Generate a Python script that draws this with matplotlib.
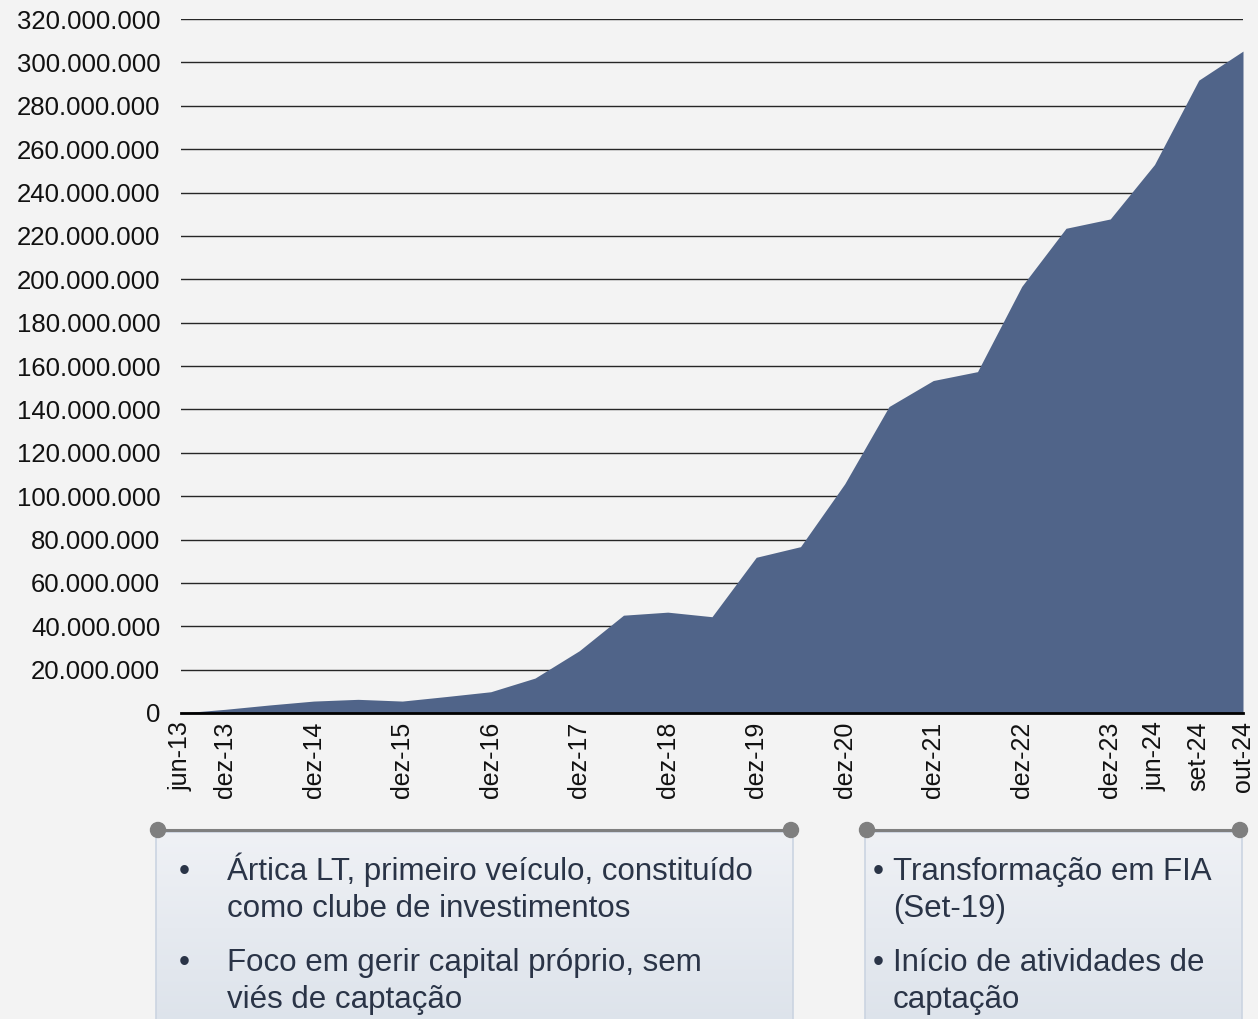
import numpy as np
import matplotlib
matplotlib.use('Agg')
import matplotlib.pyplot as plt
from matplotlib.ticker import FuncFormatter, MultipleLocator
from matplotlib.patches import Rectangle, Circle

plt.rcParams['font.family'] = ['Liberation Sans', 'DejaVu Sans']

# ================= Data =================
periods = ['jun-13', 'dez-13', 'jun-14', 'dez-14', 'jun-15', 'dez-15', 'jun-16', 'dez-16',
           'jun-17', 'dez-17', 'jun-18', 'dez-18', 'jun-19', 'dez-19', 'jun-20', 'dez-20',
           'jun-21', 'dez-21', 'jun-22', 'dez-22', 'jun-23', 'dez-23', 'jun-24', 'set-24',
           'out-24']
# patrimonio (R$ milhoes)
aum_mm = [0, 1.7, 3.7, 5.5, 6.3, 5.5, 7.6, 9.8,
          16.1, 28.7, 45.1, 46.5, 44.4, 71.8, 76.7, 105.7,
          141.3, 153.3, 157.4, 196.7, 223.5, 227.8, 252.9, 291.8,
          305.2]
# only some labels are shown on the axis
shown_labels = ['jun-13', 'dez-13', 'dez-14', 'dez-15', 'dez-16', 'dez-17', 'dez-18',
                'dez-19', 'dez-20', 'dez-21', 'dez-22', 'dez-23', 'jun-24', 'set-24', 'out-24']

box_left = [["Ártica LT, primeiro veículo, constituído", "como clube de investimentos"],
            ["Foco em gerir capital próprio, sem", "viés de captação"]]
box_right = [["Transformação em FIA", "(Set-19)"],
             ["Início de atividades de", "captação"]]

W, H = 1258, 1019
bg = '#f3f3f3'
area_color = '#506489'
text_color = '#2a3447'

fig = plt.figure(figsize=(W / 100, H / 100), dpi=100, facecolor=bg)

# ================= Area chart =================
ax = fig.add_axes([181 / W, (H - 713) / H, 1062 / W, 694 / H])
ax.set_facecolor(bg)
x = np.arange(len(periods))
values = np.array(aum_mm) * 1e6
ax.fill_between(x, 0, values, color=area_color, lw=0, zorder=3)

ax.set_xlim(0, len(periods) - 1)
ax.set_ylim(0, 320e6)
ax.yaxis.set_major_locator(MultipleLocator(20e6))
ax.yaxis.set_major_formatter(FuncFormatter(lambda v, p: f"{v:,.0f}".replace(',', '.')))
ax.grid(axis='y', color='#262626', lw=1.0, zorder=1)
ax.set_axisbelow(True)

ax.set_xticks(x)
ax.set_xticklabels([p if p in shown_labels else '' for p in periods], rotation=90)
ax.tick_params(axis='x', length=0, pad=6, labelsize=18, labelcolor='#111111')
ax.tick_params(axis='y', length=0, pad=15, labelsize=18.5, labelcolor='#111111')

for side in ['top', 'right', 'left']:
    ax.spines[side].set_visible(False)
ax.spines['bottom'].set_color('black')
ax.spines['bottom'].set_linewidth(2)
ax.spines['bottom'].set_zorder(4)

# ================= Text boxes below =================
ov = fig.add_axes([0, 0, 1, 1])
ov.set_xlim(0, W)
ov.set_ylim(H, 0)
ov.axis('off')
ov.patch.set_visible(False)

grad = np.linspace(0, 1, 100).reshape(-1, 1)
top_c = np.array([0xef, 0xf1, 0xf5]) / 255
bot_c = np.array([0xdd, 0xe3, 0xeb]) / 255
grad_img = top_c + grad[..., None] * (bot_c - top_c)


def draw_box(x0, x1, lines, bullet_x, text_x):
    y0, y1 = 832, H + 5
    im = ov.imshow(grad_img, extent=[x0, x1, y1, y0], aspect='auto', zorder=1)
    rect = Rectangle((x0, y0), x1 - x0, y1 - y0, fill=False, ec='#cbd4e1', lw=1.2, zorder=2)
    ov.add_patch(rect)
    im.set_clip_path(rect)
    ov.plot([x0 + 2, x1 - 2], [830, 830], color='#7f7f7f', lw=2.2, zorder=3,
            solid_capstyle='butt')
    for cx in (x0 + 2, x1 - 2):
        ov.add_patch(Circle((cx, 830), 7.5, color='#7f7f7f', zorder=4))
    baselines = [[880, 917], [971, 1008]]
    for item, ys in zip(lines, baselines):
        ov.text(bullet_x, ys[0], '•', fontsize=22.5, color=text_color,
                ha='center', va='baseline', zorder=5)
        for line, yb in zip(item, ys):
            ov.text(text_x, yb, line, fontsize=22.5, color=text_color,
                    ha='left', va='baseline', zorder=5)


draw_box(156, 793, box_left, 184, 227)
draw_box(865, 1242, box_right, 878, 893)

fig.savefig('out.png', dpi=100, facecolor=bg)
